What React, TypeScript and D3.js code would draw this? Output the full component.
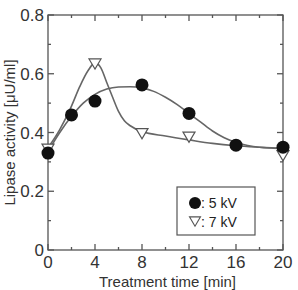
import React from "react";
import * as d3 from "d3";

// measured points
const times5 = [0, 2, 4, 8, 12, 16, 20];
const values5 = [0.33, 0.46, 0.507, 0.562, 0.465, 0.357, 0.35];
const times7 = [0, 4, 8, 12, 20];
const values7 = [0.345, 0.635, 0.398, 0.386, 0.323];

// fitted curves
const fitT5 = [0, 1, 2, 3, 4, 5, 6, 7, 8, 9, 10, 11, 12, 13, 14, 15, 16, 17, 18, 19, 20];
const fitV5 = [0.335, 0.4, 0.455, 0.5, 0.53, 0.548, 0.555, 0.556, 0.552, 0.54, 0.52, 0.495, 0.465, 0.435, 0.405, 0.382, 0.366, 0.356, 0.35, 0.347, 0.345];
const fitT7 = [0, 1, 2, 2.7, 3.4, 4, 4.5, 5, 5.5, 6, 6.5, 7, 8, 10, 12, 14, 16, 18, 20];
const fitV7 = [0.348, 0.41, 0.49, 0.556, 0.61, 0.637, 0.62, 0.57, 0.52, 0.472, 0.44, 0.423, 0.403, 0.388, 0.375, 0.363, 0.355, 0.35, 0.346];

const xTicks = [0, 4, 8, 12, 16, 20];
const xMinor = [2, 6, 10, 14, 18];
const yTicks = [0, 0.2, 0.4, 0.6, 0.8];
const yMinor = [0.1, 0.3, 0.5, 0.7];
const legendLabels = [": 5 kV", ": 7 kV"];

const W = 298, H = 290;
const L = 48, R = 283, T = 15, B = 250;
const axisColor = "#555";
const lineColor = "#666";
const font = "'Liberation Sans', Arial, sans-serif";

export default function App() {
  const x = d3.scaleLinear().domain([0, 20]).range([L, R]);
  const y = d3.scaleLinear().domain([0, 0.8]).range([B, T]);

  const line = d3.line<[number, number]>()
    .x(d => x(d[0]))
    .y(d => y(d[1]))
    .curve(d3.curveMonotoneX);

  const fit5 = fitT5.map((t, i) => [t, fitV5[i]] as [number, number]);
  const fit7 = fitT7.map((t, i) => [t, fitV7[i]] as [number, number]);

  const tri = (cx: number, cy: number, s = 6) =>
    `M${cx - s},${cy - s * 0.75}L${cx + s},${cy - s * 0.75}L${cx},${cy + s * 0.95}Z`;

  const major = 6, minor = 3;

  return (
    <svg width={W} height={H} style={{ position: "absolute", left: 0, top: 0, background: "#fff" }}>
      {/* frame */}
      <rect x={L} y={T} width={R - L} height={B - T} fill="none" stroke={axisColor} strokeWidth={1.3} />

      {/* ticks on all four sides, pointing inward */}
      <g stroke={axisColor} strokeWidth={1.3}>
        {xTicks.map(t => (
          <g key={"xt" + t}>
            <line x1={x(t)} x2={x(t)} y1={B} y2={B - major} />
            <line x1={x(t)} x2={x(t)} y1={T} y2={T + major} />
          </g>
        ))}
        {xMinor.map(t => (
          <g key={"xm" + t}>
            <line x1={x(t)} x2={x(t)} y1={B} y2={B - minor} />
            <line x1={x(t)} x2={x(t)} y1={T} y2={T + minor} />
          </g>
        ))}
        {yTicks.map(v => (
          <g key={"yt" + v}>
            <line x1={L} x2={L + major} y1={y(v)} y2={y(v)} />
            <line x1={R} x2={R - major} y1={y(v)} y2={y(v)} />
          </g>
        ))}
        {yMinor.map(v => (
          <g key={"ym" + v}>
            <line x1={L} x2={L + minor} y1={y(v)} y2={y(v)} />
            <line x1={R} x2={R - minor} y1={y(v)} y2={y(v)} />
          </g>
        ))}
      </g>

      {/* tick labels */}
      <g fontFamily={font} fontSize={17} fill="#333">
        {xTicks.map(t => (
          <text key={"xl" + t} x={x(t)} y={B + 18} textAnchor="middle">{t}</text>
        ))}
        {yTicks.map(v => (
          <text key={"yl" + v} x={L - 4} y={y(v) + 6} textAnchor="end">
            {v === 0 ? "0" : v.toFixed(1)}
          </text>
        ))}
      </g>

      {/* axis titles */}
      <text x={(L + R) / 2 + 2} y={287} textAnchor="middle" fontFamily={font} fontSize={15} fill="#333">
        Treatment time [min]
      </text>
      <text
        transform={`translate(15, ${(T + B) / 2}) rotate(-90)`}
        textAnchor="middle"
        fontFamily={font}
        fontSize={15}
        fill="#333"
      >
        Lipase activity [μU/ml]
      </text>

      {/* fitted curves */}
      <path d={line(fit5) ?? ""} fill="none" stroke={lineColor} strokeWidth={1.6} />
      <path d={line(fit7) ?? ""} fill="none" stroke={lineColor} strokeWidth={1.6} />

      {/* markers */}
      {times7.map((t, i) => (
        <path key={"m7" + t} d={tri(x(t), y(values7[i]))} fill="#fff" stroke="#555" strokeWidth={1.2} />
      ))}
      {times5.map((t, i) => (
        <circle key={"m5" + t} cx={x(t)} cy={y(values5[i])} r={6.5} fill="#111" />
      ))}

      {/* legend */}
      <rect x={177} y={187} width={78} height={48} fill="#fff" stroke={axisColor} strokeWidth={1.2} />
      <circle cx={195} cy={203} r={6} fill="#111" />
      <path d={tri(195, 221, 5.5)} fill="#fff" stroke="#555" strokeWidth={1.1} />
      <g fontFamily={font} fontSize={14} fill="#222">
        <text x={201} y={208}>{legendLabels[0]}</text>
        <text x={201} y={227}>{legendLabels[1]}</text>
      </g>
    </svg>
  );
}
